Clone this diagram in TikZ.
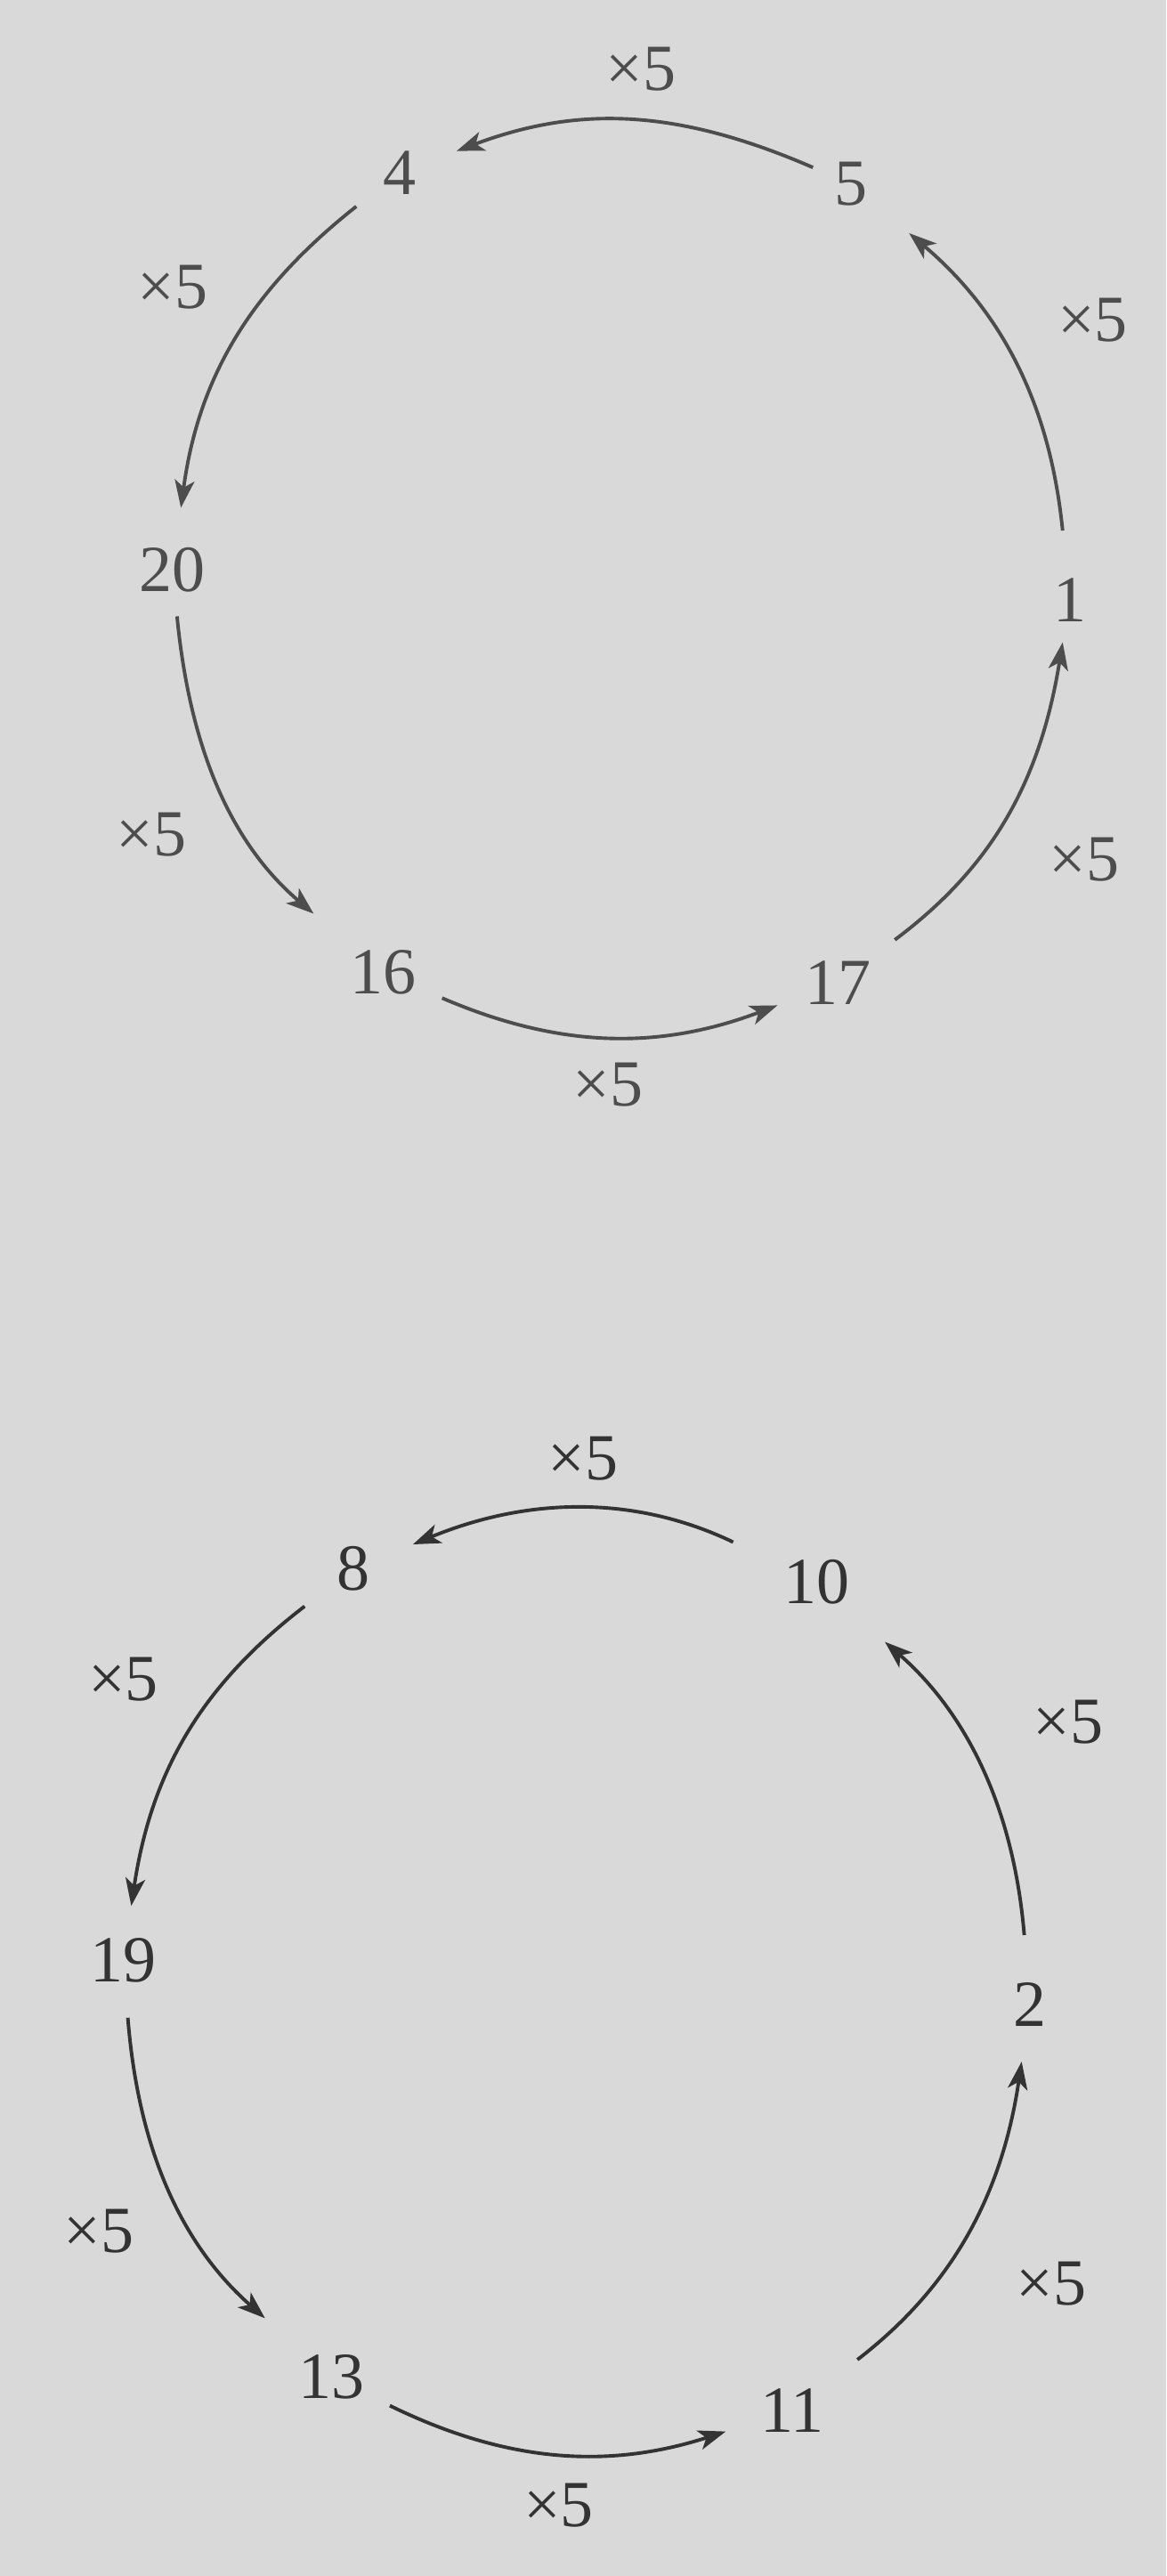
\documentclass[tikz,border=0pt]{standalone}
\usepackage{fontspec}
\setmainfont{Liberation Serif}
\usetikzlibrary{arrows.meta}
\definecolor{paper}{HTML}{D9D9D9}
\definecolor{inktop}{HTML}{4D4D4D}
\definecolor{inkbot}{HTML}{333333}
\begin{document}
\begin{tikzpicture}[x=0.025cm,y=-0.025cm,
  num/.style={circle,minimum size=1.5cm,inner sep=0pt,font=\fontsize{28.5}{34}\selectfont},
  lab/.style={inner sep=0pt,font=\fontsize{28.5}{34}\selectfont},
  cyc/.style={-{Stealth[length=0.42cm,width=0.3cm,inset=0.11cm]},line width=1.5pt,bend right=22}]
\fill[paper] (0,0) rectangle (710,1568);
\useasboundingbox (0,0) rectangle (710,1568);
% top cycle
\begin{scope}[text=inktop]
\node[num] (a5) at (518,112) {5};
\node[num] (a4) at (243,105) {4};
\node[num] (a20) at (105,347) {20};
\node[num] (a16) at (233,592) {16};
\node[num] (a17) at (510,598) {17};
\node[num] (a1) at (651,365) {1};
\node[lab] (la1) at (390,42) {×5};
\node[lab] (la2) at (105,175) {×5};
\node[lab] (la3) at (92,508) {×5};
\node[lab] (la4) at (370,660) {×5};
\node[lab] (la5) at (660,523) {×5};
\node[lab] (la6) at (665,195) {×5};
\end{scope}
\begin{scope}[inktop]
\draw[cyc,shorten <=-0.125cm,shorten >=0.175cm] (a5) to (a4);
\draw[cyc,shorten <=0.075cm,shorten >=0.2cm] (a4) to (a20);
\draw[cyc,shorten <=-0.05cm,shorten >=0.625cm] (a20) to (a16);
\draw[cyc,shorten <=0.225cm,shorten >=0.225cm] (a16) to (a17);
\draw[cyc,shorten <=0.325cm,shorten >=-0.1cm] (a17) to (a1);
\draw[cyc,shorten <=0.3cm,shorten >=0.4cm] (a1) to (a5);
\end{scope}
% bottom cycle
\begin{scope}[text=inkbot]
\node[num] (b10) at (497,963) {10};
\node[num] (b8) at (215,955) {8};
\node[num] (b19) at (75,1193) {19};
\node[num] (b13) at (202,1447) {13};
\node[num] (b11) at (482,1467) {11};
\node[num] (b2) at (627,1220) {2};
\node[lab] (lb1) at (355,888) {×5};
\node[lab] (lb2) at (75,1022) {×5};
\node[lab] (lb3) at (60,1358) {×5};
\node[lab] (lb4) at (340,1525) {×5};
\node[lab] (lb5) at (640,1390) {×5};
\node[lab] (lb6) at (650,1048) {×5};
\end{scope}
\begin{scope}[inkbot]
\draw[cyc,bend right=24,shorten <=0.65cm,shorten >=0.225cm] (b10) to (b8);
\draw[cyc,shorten <=0.175cm,shorten >=0.075cm] (b8) to (b19);
\draw[cyc,shorten <=0.125cm,shorten >=0.6cm] (b19) to (b13);
\draw[cyc,shorten <=0.225cm,shorten >=0.3cm] (b13) to (b11);
\draw[cyc,shorten <=0.5cm,shorten >=0.125cm] (b11) to (b2);
\draw[cyc,shorten <=0.3cm,shorten >=0.625cm] (b2) to (b10);
\end{scope}
\end{tikzpicture}
\end{document}
